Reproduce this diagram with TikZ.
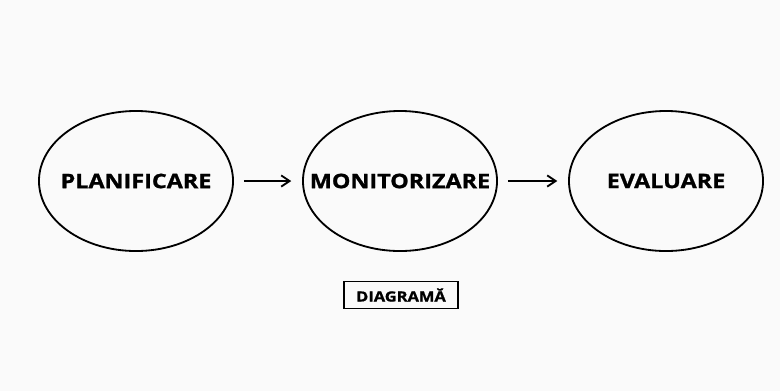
\documentclass[tikz,border=0pt]{standalone}
\usepackage{fontspec}
\setmainfont{Open Sans}
\newfontfamily\stagefont{Open Sans}[FakeStretch=1.17, FakeBold=1.2]
\usetikzlibrary{shapes.geometric}
\usetikzlibrary{arrows.meta}

\begin{document}
\begin{tikzpicture}[x = 0.025cm, y = -0.025cm,
  stage/.style = {draw, ellipse, line width = 1.3pt, inner sep = 0pt,
    minimum width = 4.85cm, minimum height = 3.5cm,
    font = \stagefont\bfseries\fontsize{14.2}{16}\selectfont},
  flow/.style = {-{Straight Barb[length = 6pt, width = 8pt]}, line width = 1.3pt,
    shorten < = 0.25cm, shorten > = 0.27cm},
  tag/.style = {draw, line width = 0.8pt, minimum width = 2.85cm, minimum height = 0.67cm,
    inner sep = 0pt, font = \stagefont\bfseries\fontsize{10}{12}\selectfont}]
\fill[black!2] (0, 0) rectangle (780, 391);
\node[stage] (plan) at (136, 181){\makebox[0pt]{PLANIFICARE}};
\node[stage] (moni) at (400, 181){\makebox[0pt]{MONITORIZARE}};
\node[stage] (eval) at (666, 181){\makebox[0pt]{EVALUARE}};
\draw[flow] (plan) -- (moni);
\draw[flow] (moni) -- (eval);
\node[tag] (diag) at (401, 295){DIAGRAMĂ};
\end{tikzpicture}
\end{document}
